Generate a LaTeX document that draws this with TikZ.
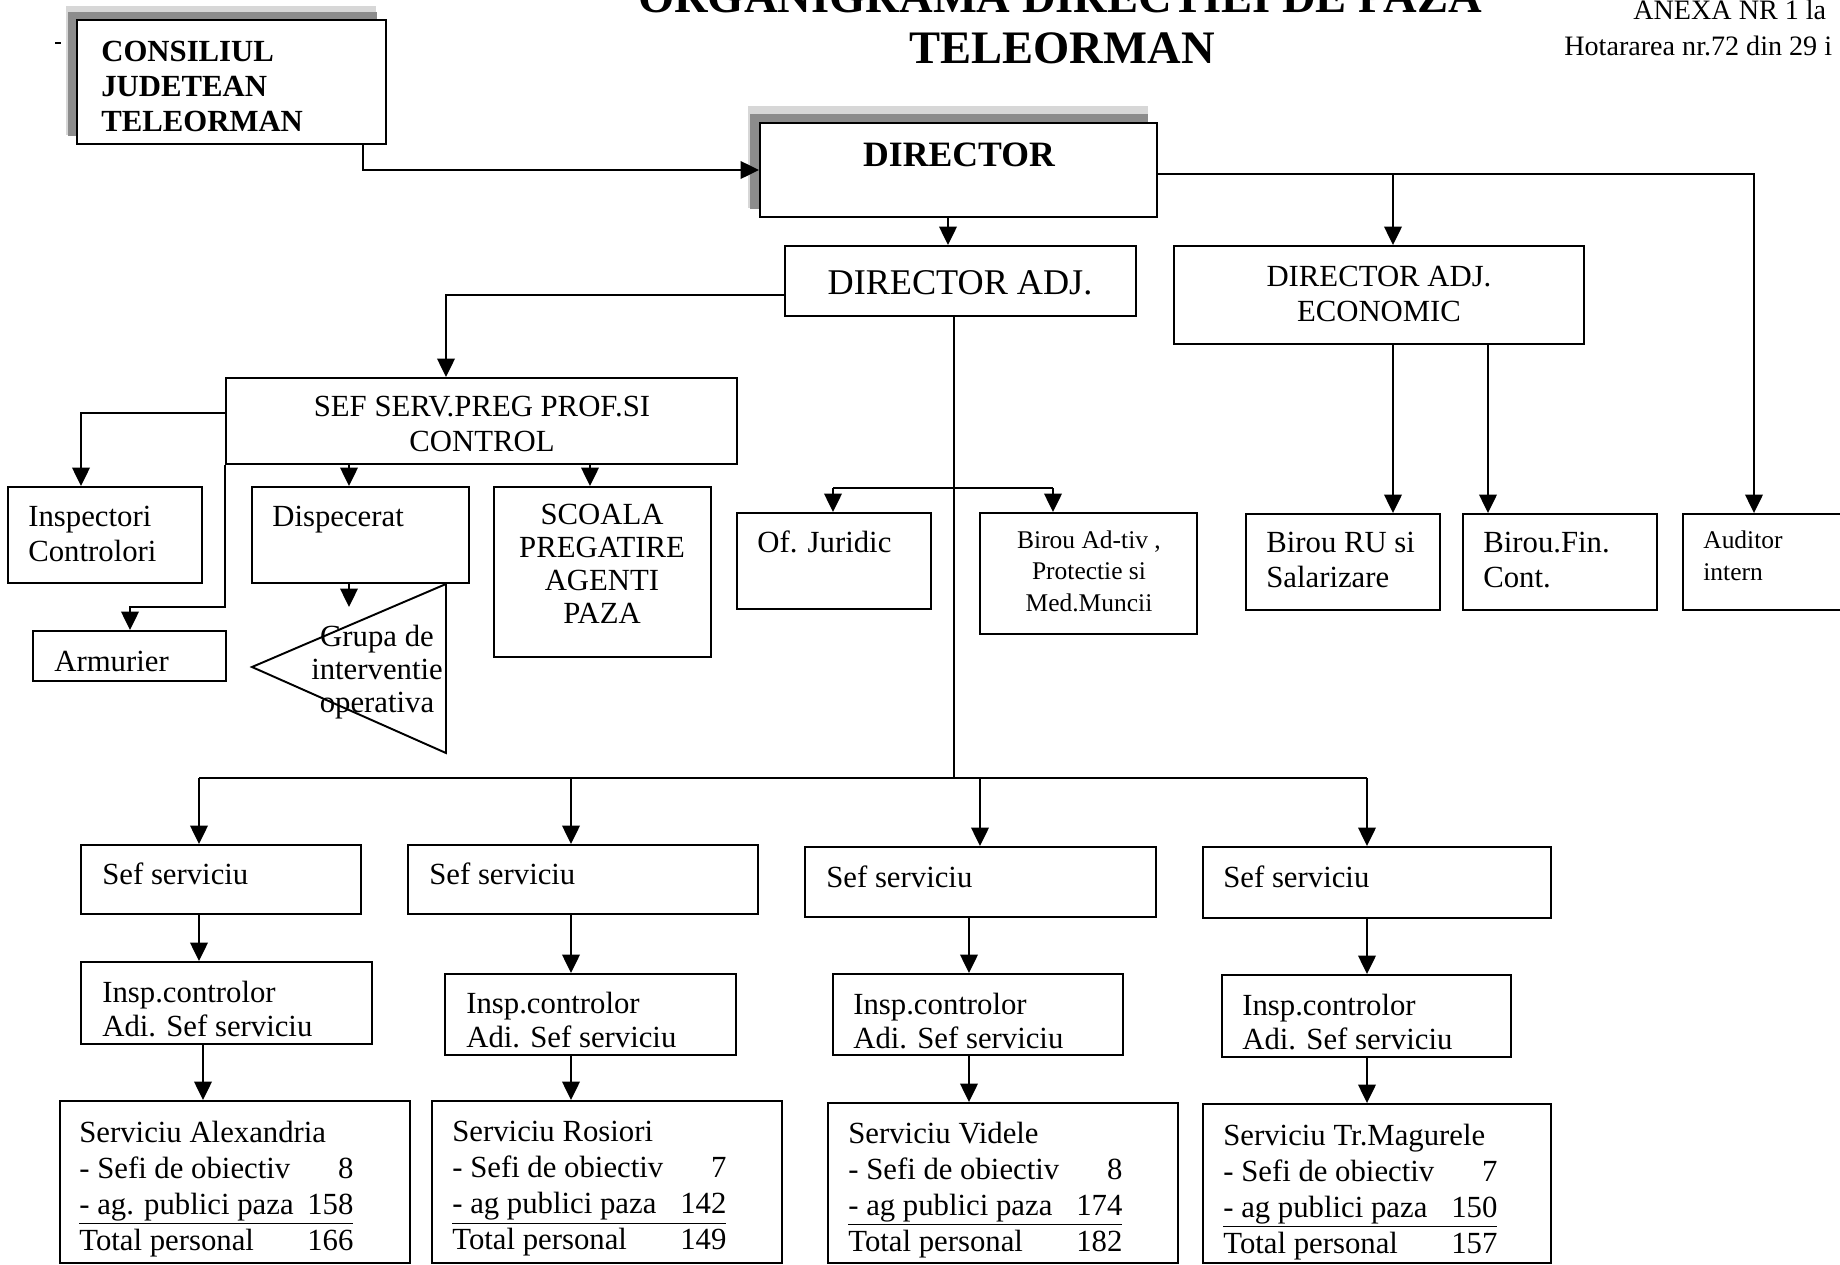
\documentclass[tikz,border=0pt]{standalone}
\usepackage{fontspec}
\setmainfont{Liberation Serif}
\usetikzlibrary{arrows.meta,fit}
\definecolor{shadowgray}{RGB}{140,140,140}

\newcommand{\servlines}[5]{Serviciu #1\\
  \makebox[156pt][l]{- Sefi de obiectiv\hfill #2}\\
  \underline{\makebox[156pt][l]{#3\hfill #4}}\\
  \makebox[156pt][l]{Total personal\hfill #5}}

\begin{document}
\begin{tikzpicture}[x=0.02cm, y=-0.02cm,
    box/.style={draw, line width=1.1pt, fill=white, inner sep=0pt},
    txt/.style={inner sep=0pt, font=\fontsize{17.5}{20}\selectfont},
    smalltxt/.style={inner sep=0pt, font=\fontsize{14.5}{18}\selectfont},
    conn/.style={line width=1.1pt},
    arr/.style={line width=1.1pt, -{Triangle[length=10.5pt,width=10pt]}}]

    \useasboundingbox (0,0) rectangle (1840,1265);

    % Title
    \node[inner sep=0pt, font=\bfseries\fontsize{26.5}{31}\selectfont, anchor=base] (ttl1) at (1060,12) {ORGANIGRAMA DIRECTIEI DE PAZA};
    \node[inner sep=0pt, font=\bfseries\fontsize{26.5}{31}\selectfont, anchor=base] (ttl2) at (1062,63) {TELEORMAN};
    \node[inner sep=0pt, font=\fontsize{16}{19}\selectfont, anchor=base west] (anx) at (1633,19) {ANEXA NR 1 la};
    \node[inner sep=0pt, font=\fontsize{16}{19}\selectfont, anchor=base west] (hot) at (1564,55) {Hotararea nr.72 din 29 i};
    \draw[conn] (55,43) -- (61,43);

    % Shadows
    \fill[shadowgray!35] (66,6) rectangle (376,135);
    \fill[shadowgray] (68,12) rectangle (377,136);
    \fill[shadowgray!35] (748,106) rectangle (1148,208);
    \fill[shadowgray] (750,114) rectangle (1148,209);

    % Top boxes
    \node[box, fit={(77,20) (386,144)}] (cj) {};
    \node[box, fit={(760,123) (1157,217)}] (dir) {};
    \node[box, fit={(785,246) (1136,316)}] (dadj) {};
    \node[box, fit={(1174,246) (1584,344)}] (econ) {};
    \node[box, fit={(226,378) (737,464)}] (sef) {};

    % Second level boxes
    \node[box, fit={(8,487) (202,583)}] (insp) {};
    \node[box, fit={(252,487) (469,583)}] (disp) {};
    \node[box, fit={(494,487) (711,657)}] (scoala) {};
    \node[box, fit={(33,631) (226,681)}] (arm) {};
    \node[box, fit={(737,513) (931,609)}] (jur) {};
    \node[box, fit={(980,513) (1197,634)}] (adtiv) {};
    \node[box, fit={(1246,514) (1440,610)}] (ru) {};
    \node[box, fit={(1463,514) (1657,610)}] (fin) {};
    \node[box, fit={(1683,514) (1860,610)}] (aud) {};
    \draw[conn] (446,584) coordinate (grp-a) -- (252,667) coordinate (grp-b) -- (446,753) coordinate (grp-c) -- cycle;

    % Service columns
    \node[box, fit={(81,845) (361,914)}] (ss1) {};
    \node[box, fit={(408,845) (758,914)}] (ss2) {};
    \node[box, fit={(805,847) (1156,917)}] (ss3) {};
    \node[box, fit={(1203,847) (1551,918)}] (ss4) {};
    \node[box, fit={(81,962) (372,1044)}] (ins1) {};
    \node[box, fit={(445,974) (736,1055)}] (ins2) {};
    \node[box, fit={(833,974) (1123,1055)}] (ins3) {};
    \node[box, fit={(1222,975) (1511,1057)}] (ins4) {};
    \node[box, fit={(60,1101) (410,1263)}] (sv1) {};
    \node[box, fit={(432,1101) (782,1263)}] (sv2) {};
    \node[box, fit={(828,1103) (1178,1263)}] (sv3) {};
    \node[box, fit={(1203,1104) (1551,1263)}] (sv4) {};

    % Texts
    \node[txt, font=\bfseries\fontsize{17.5}{20}\selectfont, align=left, anchor=north west] (cj-t) at (101,41) {CONSILIUL\\JUDETEAN\\TELEORMAN};
    \node[inner sep=0pt, font=\bfseries\fontsize{20.3}{24}\selectfont] (dir-t) at (959,155) {DIRECTOR};
    \node[inner sep=0pt, font=\fontsize{20.6}{24}\selectfont] (dadj-t) at (960,283) {DIRECTOR ADJ.};
    \node[txt, align=center] (econ-t) at (1379,294) {DIRECTOR ADJ.\\ECONOMIC};
    \node[txt, align=center] (sef-t) at (482,424) {SEF SERV.PREG PROF.SI\\CONTROL};
    \node[txt, align=left, anchor=west] (insp-t) at (28,534) {Inspectori\\Controlori};
    \node[txt, anchor=base west] (disp-t) at (272,526) {Dispecerat};
    \node[txt, font=\fontsize{17.5}{18.8}\selectfont, align=center] (scoala-t) at (602,564) {SCOALA\\PREGATIRE\\AGENTI\\PAZA};
    \node[txt, anchor=base west] (arm-t) at (54,671) {Armurier};
    \node[txt, font=\fontsize{17.5}{18.8}\selectfont, align=center] (grp-t) at (377,672) {Grupa de\\interventie\\operativa};
    \node[txt, anchor=base west] (jur-t) at (757,552) {Of. Juridic};
    \node[smalltxt, align=center] (adtiv-t) at (1089,571) {Birou Ad-tiv ,\\Protectie si\\Med.Muncii};
    \node[txt, align=left, anchor=west] (ru-t) at (1266,560) {Birou RU si\\Salarizare};
    \node[txt, align=left, anchor=west] (fin-t) at (1483,560) {Birou.Fin.\\Cont.};
    \node[smalltxt, align=left, anchor=west] (aud-t) at (1703,556) {Auditor\\intern};

    \node[txt, anchor=base west] (ss1-t) at (102,884) {Sef serviciu};
    \node[txt, anchor=base west] (ss2-t) at (429,884) {Sef serviciu};
    \node[txt, anchor=base west] (ss3-t) at (826,887) {Sef serviciu};
    \node[txt, anchor=base west] (ss4-t) at (1223,887) {Sef serviciu};
    \node[txt, font=\fontsize{17.5}{19}\selectfont, align=left, anchor=north west] (ins1-t) at (102,981) {Insp.controlor\\Adi. Sef serviciu};
    \node[txt, font=\fontsize{17.5}{19}\selectfont, align=left, anchor=north west] (ins2-t) at (466,992) {Insp.controlor\\Adi. Sef serviciu};
    \node[txt, font=\fontsize{17.5}{19}\selectfont, align=left, anchor=north west] (ins3-t) at (853,993) {Insp.controlor\\Adi. Sef serviciu};
    \node[txt, font=\fontsize{17.5}{19}\selectfont, align=left, anchor=north west] (ins4-t) at (1242,994) {Insp.controlor\\Adi. Sef serviciu};
    \node[txt, font=\fontsize{17.5}{20.5}\selectfont, align=left, anchor=north west] (sv1-t) at (79,1121) {\servlines{Alexandria}{8}{- ag. publici paza}{158}{166}};
    \node[txt, font=\fontsize{17.5}{20.5}\selectfont, align=left, anchor=north west] (sv2-t) at (452,1121) {\servlines{Rosiori}{7}{- ag publici paza}{142}{149}};
    \node[txt, font=\fontsize{17.5}{20.5}\selectfont, align=left, anchor=north west] (sv3-t) at (848,1122) {\servlines{Videle}{8}{- ag publici paza}{174}{182}};
    \node[txt, font=\fontsize{17.5}{20.5}\selectfont, align=left, anchor=north west] (sv4-t) at (1223,1124) {\servlines{Tr.Magurele}{7}{- ag publici paza}{150}{157}};

    % Connectors from the top
    \draw[arr] (cj.south -| 363,0) |- (dir);
    \draw[arr] (dir.south -| 948,0) -- (dadj.north -| 948,0);
    \draw[arr] (dir.east |- 0,174) -| (aud.north -| 1754,0);
    \draw[arr] (1393,174) -- (econ.north -| 1393,0);
    \draw[arr] (dadj.west |- 0,295) -| (sef.north -| 446,0);
    \draw[arr] (econ.south -| 1393,0) -- (ru.north -| 1393,0);
    \draw[arr] (econ.south -| 1488,0) -- (fin.north -| 1488,0);

    % Adjunct branches
    \draw[conn] (dadj.south -| 954,0) -- (954,778);
    \draw[conn] (833,488) -- (1053,488);
    \draw[arr] (833,488) -- (jur.north -| 833,0);
    \draw[arr] (1053,488) -- (adtiv.north -| 1053,0);
    \draw[conn] (199,778) -- (1367,778);
    \foreach \n/\x in {1/199,2/571,3/980,4/1367}
        \draw[arr] (\x,778) -- (ss\n.north -| \x,0);

    % Training and control
    \draw[arr] (sef.west |- 0,413) -| (insp.north -| 81,0);
    \draw[arr] (sef.south -| 349,0) -- (disp.north -| 349,0);
    \draw[arr] (sef.south -| 590,0) -- (scoala.north -| 590,0);
    \draw[arr] (sef.south west) |- (130,607) -- (arm.north -| 130,0);
    \coordinate (grp-tip) at (349,607);
    \draw[arr] (disp.south -| 349,0) -- (grp-tip);

    % Service columns
    \foreach \n/\xa/\xb in {1/199/203,2/571/571,3/969/969,4/1367/1367} {
        \draw[arr] (ss\n.south -| \xa,0) -- (ins\n.north -| \xa,0);
        \draw[arr] (ins\n.south -| \xb,0) -- (sv\n.north -| \xb,0);
    }
\end{tikzpicture}
\end{document}
